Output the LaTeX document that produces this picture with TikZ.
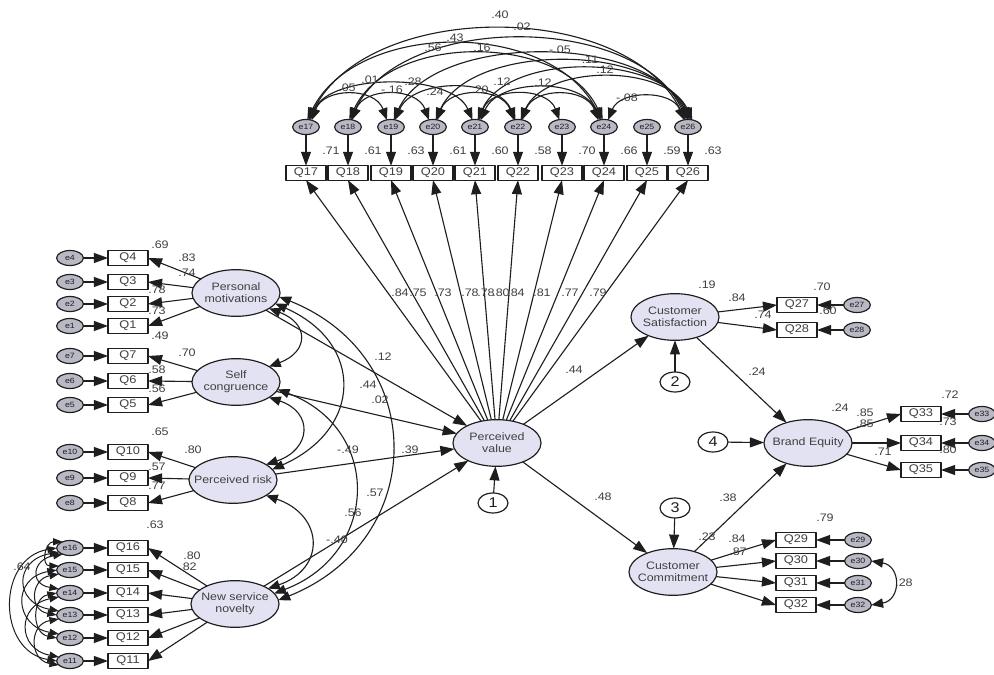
\documentclass[tikz,border=0pt]{standalone}
\usepackage{fontspec}
\setmainfont[FakeStretch=1.15]{Liberation Sans}
\usetikzlibrary{shapes.geometric,arrows.meta}
\definecolor{latfill}{RGB}{226,226,242}
\definecolor{errfill}{RGB}{185,185,198}
\definecolor{ink}{RGB}{30,30,30}
\begin{document}
\begin{tikzpicture}[x=0.03cm,y=-0.03cm,line join=round,
 every node/.style={inner sep=0pt,outer sep=0pt},
 obs/.style={rectangle,draw=ink,line width=1.1pt,fill=white,minimum width=1.2cm,minimum height=0.43cm,font=\fontsize{9.5}{10}\selectfont,text=ink!85},
 err/.style={ellipse,draw=ink,line width=1pt,fill=errfill,minimum width=0.8cm,minimum height=0.45cm,font=\fontsize{6.5}{7}\selectfont,text=ink},
 lat/.style={ellipse,draw=ink,line width=1pt,fill=latfill,minimum width=2.64cm,minimum height=1.4cm},
 lattxt/.style={align=center,font=\fontsize{9.2}{10}\selectfont,text=ink!85},
 res/.style={ellipse,draw=ink,line width=1pt,fill=white,minimum width=0.9cm,minimum height=0.6cm,font=\fontsize{12}{13}\selectfont,text=ink},
 reg/.style={draw=ink,line width=0.95pt,-{Triangle[length=12pt,width=8.5pt]}},
 cov/.style={draw=ink,line width=0.95pt,{Triangle[length=10pt,width=8pt]}-{Triangle[length=10pt,width=8pt]}},
 covs/.style={draw=ink,line width=0.85pt,{Triangle[length=8pt,width=6pt]}-{Triangle[length=8pt,width=6pt]}},
 lbl/.style={font=\fontsize{9.3}{10}\selectfont,text=ink!85},
]
\fill[white] (0,0) rectangle (994,675);
\useasboundingbox (0,0) rectangle (994,675);

% ---------- latent variables ----------
\node[lat] (PV) at (497,443) {};
\node[lattxt] (PVt) at (PV) {Perceived\\value};
\node[lat] (PM) at (236,293) {};
\node[lattxt] (PMt) at (PM) {Personal\\motivations};
\node[lat] (SC) at (236,382) {};
\node[lattxt] (SCt) at (SC) {Self\\congruence};
\node[lat] (PR) at (233,480) {};
\node[lattxt] (PRt) at (PR) {Perceived risk};
\node[lat] (NSN) at (235,604) {};
\node[lattxt] (NSNt) at (NSN) {New service\\novelty};
\node[lat] (CS) at (675,317) {};
\node[lattxt] (CSt) at (CS) {Customer\\Satisfaction};
\node[lat] (BE) at (808,443) {};
\node[lattxt] (BEt) at (BE) {Brand Equity};
\node[lat] (CC) at (673,572) {};
\node[lattxt] (CCt) at (CC) {Customer\\Commitment};

% residuals
\node[res] (r1) at (493,503) {1};
\node[res] (r2) at (675,382) {2};
\node[res] (r3) at (675,508) {3};
\node[res] (r4) at (713,442) {4};
\draw[reg] (r1) -- (PV);
\draw[reg] (r2) -- (CS);
\draw[reg] (r3) -- (CC);
\draw[reg] (r4) -- (BE);

% ---------- top indicators (Perceived value) ----------
\foreach \n/\x/\rs in {17/306/.71,18/348/.61,19/391/.63,20/433/.61,21/475/.60,22/518/.58,23/562/.70,24/604/.66,25/647/.59,26/688/.63}{
  \node[obs] (Q\n) at (\x,173) {Q\n};
  \node[err] (e\n) at (\x,127) {e\n};
  \draw[reg] (e\n) -- (Q\n);
  \draw[reg] (PV) -- (Q\n.south);
  \node[lbl] (rsq\n) at ({\x+25},151) {\rs};
}
% top error covariances
\draw[cov] (e17.70) .. controls +(60,-120) and +(-60,-120) .. (e26.110);
\draw[cov] (e18.70) .. controls +(50,-107) and +(-50,-107) .. (e26.100);
\draw[cov] (e17.80) .. controls +(50,-100) and +(-50,-100) .. (e24.110);
\draw[cov] (e18.80) .. controls +(40,-87) and +(-40,-87) .. (e24.100);
\draw[cov] (e19.70) .. controls +(40,-87) and +(-40,-87) .. (e26.90);
\draw[cov] (e20.70) .. controls +(35,-77) and +(-35,-77) .. (e26.80);
\draw[cov] (e21.70) .. controls +(30,-67) and +(-30,-67) .. (e26.70);
\draw[cov] (e22.70) .. controls +(25,-56) and +(-25,-56) .. (e26.60);
\draw[cov] (e17.60) .. controls +(20,-47) and +(-20,-47) .. (e21.110);
\draw[cov] (e17.50) .. controls +(12,-33) and +(-12,-33) .. (e19.120);
\draw[cov] (e18.60) .. controls +(12,-33) and +(-12,-33) .. (e20.120);
\draw[cov] (e19.60) .. controls +(18,-42) and +(-18,-42) .. (e22.110);
\draw[cov] (e20.60) .. controls +(12,-33) and +(-12,-33) .. (e22.120);
\draw[cov] (e21.60) .. controls +(12,-33) and +(-12,-33) .. (e23.110);
\draw[cov] (e21.50) .. controls +(18,-42) and +(-18,-42) .. (e24.120);
\draw[cov] (e22.60) .. controls +(12,-33) and +(-12,-33) .. (e24.130);
\draw[cov] (e24.60) .. controls +(12,-30) and +(-12,-30) .. (e26.120);
\node[lbl] (c1) at (500,15) {.40};
\node[lbl] (c2) at (522,27) {.02};
\node[lbl] (c3) at (455,38) {.43};
\node[lbl] (c4) at (433,48) {.56};
\node[lbl] (c5) at (482,48) {.16};
\node[lbl] (c6) at (560,50) {-.05};
\node[lbl] (c7) at (590,60) {.11};
\node[lbl] (c8) at (605,70) {.12};
\node[lbl] (c9) at (370,80) {.01};
\node[lbl] (c10) at (347,88) {.05};
\node[lbl] (c11) at (392,90) {-.16};
\node[lbl] (c12) at (413,82) {.28};
\node[lbl] (c13) at (435,92) {.24};
\node[lbl] (c14) at (480,90) {.20};
\node[lbl] (c15) at (502,82) {.12};
\node[lbl] (c16) at (543,83) {.12};
\node[lbl] (c17) at (627,98) {-.08};
% loadings of Perceived value
\node[lbl] (l1) at (400,293) {.84};
\node[lbl] (l2) at (418,293) {.75};
\node[lbl] (l3) at (443,293) {.73};
\node[lbl] (l4) at (470,293) {.78};
\node[lbl] (l5) at (486,293) {.78};
\node[lbl] (l6) at (501,293) {.80};
\node[lbl] (l7) at (516,293) {.84};
\node[lbl] (l8) at (542,293) {.81};
\node[lbl] (l9) at (570,293) {.77};
\node[lbl] (l10) at (598,293) {.79};

% ---------- left indicators ----------
\foreach \n/\y in {4/258,3/282,2/304,1/326,7/356,6/381,5/405,10/452,9/478,8/503,16/548,15/570,14/593,13/615,12/638,11/661}{
  \node[obs] (Q\n) at (128,\y) {Q\n};
  \node[err] (e\n) at (70,\y) {e\n};
  \draw[reg] (e\n) -- (Q\n);
}
\foreach \n in {4,3,2,1}{\draw[reg] (PM) -- (Q\n.east);}
\foreach \n in {7,6,5}{\draw[reg] (SC) -- (Q\n.east);}
\foreach \n in {10,9,8}{\draw[reg] (PR) -- (Q\n.east);}
\foreach \n in {16,15,14,13,12,11}{\draw[reg] (NSN) -- (Q\n.east);}

% error covariances of New service novelty items
\draw[covs] (e16.180) .. controls +(-60,10) and +(-60,-10) .. (e11.180);
\draw[covs] (e16.200) .. controls +(-45,8) and +(-45,-8) .. (e13.160);
\draw[covs] (e15.180) .. controls +(-45,8) and +(-45,-8) .. (e12.160);
\draw[covs] (e14.200) .. controls +(-42,8) and +(-42,-8) .. (e11.160);
\draw[covs] (e16.220) .. controls +(-30,5) and +(-30,-5) .. (e14.160);
\draw[covs] (e15.200) .. controls +(-28,5) and +(-28,-5) .. (e13.180);
\draw[covs] (e13.200) .. controls +(-30,5) and +(-30,-5) .. (e11.200);
\draw[covs] (e14.180) .. controls +(-25,5) and +(-25,-5) .. (e12.180);
\draw[covs] (e15.160) .. controls +(-18,0) and +(-18,0) .. (e16.140);
\node[lbl] (cl1) at (22,567) {.64};

% covariances between exogenous latents
\draw[cov] (PM.-25) .. controls +(40,15) and +(40,-15) .. (SC.25);
\draw[cov] (SC.-25) .. controls +(45,15) and +(45,-15) .. (PR.25);
\draw[cov] (PR.-25) .. controls +(58,20) and +(58,-20) .. (NSN.25);
\draw[cov] (PM.-15) .. controls +(90,40) and +(90,-40) .. (PR.15);
\draw[cov] (SC.-10) .. controls +(105,40) and +(105,-40) .. (NSN.15);
\draw[cov] (PM.-5) .. controls +(150,60) and +(150,-60) .. (NSN.5);

% structural paths
\draw[reg] (PM) -- (PV);
\draw[reg] (SC) -- (PV);
\draw[reg] (PR) -- (PV);
\draw[reg] (NSN) -- (PV);
\draw[reg] (PV) -- (CS);
\draw[reg] (PV) -- (CC);
\draw[reg] (CS) -- (BE);
\draw[reg] (CC) -- (BE);

% left labels
\node[lbl] (ll1) at (160,245) {.69};
\node[lbl] (ll2) at (187,258) {.83};
\node[lbl] (ll3) at (187,273) {.74};
\node[lbl] (ll4) at (157,290) {.78};
\node[lbl] (ll5) at (157,311) {.73};
\node[lbl] (ll6) at (160,336) {.49};
\node[lbl] (ll7) at (187,353) {.70};
\node[lbl] (ll8) at (157,370) {.58};
\node[lbl] (ll9) at (157,389) {.56};
\node[lbl] (ll10) at (160,432) {.65};
\node[lbl] (ll11) at (193,450) {.80};
\node[lbl] (ll12) at (157,467) {.57};
\node[lbl] (ll13) at (157,486) {.77};
\node[lbl] (ll14) at (155,525) {.63};
\node[lbl] (ll15) at (192,556) {.80};
\node[lbl] (ll16) at (188,567) {.82};
% middle labels
\node[lbl] (m1) at (383,357) {.12};
\node[lbl] (m2) at (368,385) {.44};
\node[lbl] (m3) at (380,400) {.02};
\node[lbl] (m4) at (348,450) {-.49};
\node[lbl] (m5) at (410,450) {.39};
\node[lbl] (m6) at (375,493) {.57};
\node[lbl] (m7) at (353,513) {.56};
\node[lbl] (m8) at (337,540) {-.40};

% ---------- right indicators ----------
\foreach \n/\y in {27/305,28/330}{
  \node[obs] (Q\n) at (797,\y) {Q\n};
  \node[err] (e\n) at (857,\y) {e\n};
  \draw[reg] (e\n) -- (Q\n);
  \draw[reg] (CS) -- (Q\n.west);
}
\foreach \n/\y in {33/414,34/443,35/470}{
  \node[obs] (Q\n) at (921,\y) {Q\n};
  \node[err] (e\n) at (982,\y) {e\n};
  \draw[reg] (e\n) -- (Q\n);
  \draw[reg] (BE) -- (Q\n.west);
}
\foreach \n/\y in {29/540,30/561,31/583,32/605}{
  \node[obs] (Q\n) at (796,\y) {Q\n};
  \node[err] (e\n) at (858,\y) {e\n};
  \draw[reg] (e\n) -- (Q\n);
  \draw[reg] (CC) -- (Q\n.west);
}
\draw[cov] (e30.east) .. controls +(30,5) and +(30,-5) .. (e32.east);

% right labels
\node[lbl] (rl1) at (574,370) {.44};
\node[lbl] (rl2) at (603,497) {.48};
\node[lbl] (rl3) at (707,285) {.19};
\node[lbl] (rl4) at (737,298) {.84};
\node[lbl] (rl5) at (763,315) {.74};
\node[lbl] (rl6) at (822,287) {.70};
\node[lbl] (rl7) at (828,311) {.60};
\node[lbl] (rl8) at (757,372) {.24};
\node[lbl] (rl9) at (840,408) {.24};
\node[lbl] (rl10) at (865,413) {.85};
\node[lbl] (rl11) at (865,424) {.85};
\node[lbl] (rl12) at (883,452) {.71};
\node[lbl] (rl13) at (950,395) {.72};
\node[lbl] (rl14) at (948,422) {.73};
\node[lbl] (rl15) at (948,450) {.80};
\node[lbl] (rl16) at (728,498) {.38};
\node[lbl] (rl17) at (707,537) {.23};
\node[lbl] (rl18) at (737,539) {.84};
\node[lbl] (rl19) at (738,552) {.87};
\node[lbl] (rl20) at (825,518) {.79};
\node[lbl] (rl21) at (904,583) {.28};
\end{tikzpicture}
\end{document}
